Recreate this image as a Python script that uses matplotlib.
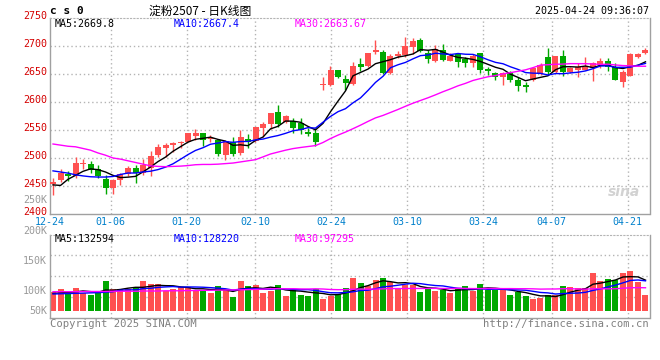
import matplotlib
matplotlib.use("Agg")
import matplotlib.pyplot as plt
import numpy as np
import pandas as pd

# daily bars 2024-12-24 .. 2025-04-24
opens = [2453, 2461, 2471, 2468, 2490, 2489, 2480, 2462, 2447, 2461,
         2471, 2482, 2474, 2483, 2505, 2517, 2523, 2527, 2528, 2540,
         2545, 2534, 2532, 2505, 2529, 2509, 2534, 2530, 2554, 2560,
         2582, 2565, 2566, 2562, 2547, 2545, 2630, 2630, 2657, 2641,
         2632, 2667, 2665, 2689, 2689, 2651, 2683, 2684, 2699, 2711,
         2687, 2674, 2692, 2674, 2685, 2676, 2669, 2687, 2659, 2652,
         2645, 2651, 2639, 2630, 2639, 2650, 2680, 2654, 2683, 2654,
         2658, 2658, 2660, 2666, 2674, 2663, 2635, 2647, 2681, 2687]
highs = [2464, 2480, 2477, 2502, 2498, 2495, 2487, 2469, 2462, 2474,
         2486, 2487, 2498, 2512, 2525, 2526, 2528, 2530, 2545, 2551,
         2545, 2541, 2533, 2530, 2538, 2550, 2542, 2555, 2564, 2580,
         2595, 2576, 2571, 2571, 2554, 2553, 2644, 2664, 2658, 2649,
         2672, 2678, 2688, 2711, 2693, 2685, 2691, 2716, 2714, 2714,
         2693, 2702, 2704, 2687, 2688, 2681, 2685, 2687, 2663, 2653,
         2653, 2655, 2645, 2635, 2663, 2669, 2697, 2683, 2692, 2663,
         2669, 2681, 2671, 2678, 2678, 2669, 2658, 2687, 2687, 2696]
lows = [2434, 2457, 2459, 2465, 2480, 2474, 2464, 2436, 2435, 2451,
        2468, 2456, 2469, 2468, 2502, 2502, 2510, 2518, 2528, 2532,
        2521, 2528, 2503, 2496, 2504, 2505, 2518, 2529, 2538, 2552,
        2556, 2563, 2544, 2543, 2539, 2521, 2621, 2629, 2643, 2621,
        2630, 2656, 2663, 2686, 2650, 2650, 2678, 2681, 2685, 2690,
        2670, 2672, 2674, 2673, 2663, 2663, 2663, 2652, 2649, 2639,
        2630, 2636, 2620, 2618, 2638, 2649, 2648, 2651, 2647, 2652,
        2644, 2657, 2637, 2660, 2656, 2639, 2626, 2647, 2678, 2686]
closes = [2457, 2474, 2468, 2491, 2491, 2479, 2467, 2447, 2461, 2471,
          2483, 2474, 2487, 2504, 2520, 2523, 2526, 2528, 2545, 2545,
          2532, 2536, 2508, 2530, 2507, 2537, 2528, 2555, 2560, 2580,
          2560, 2575, 2554, 2550, 2543, 2529, 2633, 2658, 2645, 2634,
          2664, 2663, 2688, 2693, 2652, 2682, 2686, 2700, 2709, 2691,
          2676, 2694, 2675, 2682, 2671, 2669, 2683, 2657, 2656, 2645,
          2651, 2639, 2629, 2626, 2660, 2666, 2653, 2683, 2653, 2660,
          2663, 2662, 2669, 2674, 2662, 2640, 2654, 2686, 2686, 2693]
# volume in thousands of lots
volumes = [82, 94, 78, 98, 75, 67, 78, 128, 94, 92,
           94, 97, 128, 115, 115, 86, 94, 104, 101, 89,
           85, 78, 106, 89, 58, 129, 106, 111, 76, 86,
           111, 65, 94, 67, 65, 94, 52, 65, 72, 99,
           143, 121, 106, 133, 143, 124, 94, 111, 111, 82,
           96, 86, 89, 78, 96, 106, 86, 115, 89, 89,
           89, 67, 82, 65, 50, 56, 67, 67, 106, 104,
           99, 99, 164, 130, 137, 133, 164, 171, 125, 67]

# averages at the left edge, where the history behind them is off the chart
ma5_head = [2452, 2451, 2462, 2469]
ma10_head = [2477, 2475, 2473, 2470, 2468, 2466.5, 2466, 2466, 2467]
ma30_head = [2525, 2523, 2521, 2520, 2517, 2514, 2509, 2505, 2500, 2498,
             2495, 2492, 2489, 2486, 2485, 2484.5, 2485, 2485.5, 2486.5, 2488,
             2488.5, 2488.5, 2489, 2490, 2491, 2493, 2495, 2497, 2502]
vma5_head = [75, 77, 79, 81]
vma10_head = [72, 73, 74, 75, 76, 77, 78, 80, 82]
vma30_head = [82, 82, 82, 82, 83, 83, 83, 83, 84, 84,
              84, 84, 85, 85, 85, 86, 86, 86, 87, 87,
              88, 88, 89, 89, 90, 90, 91, 92, 93]

tick_idx = [0, 8, 18, 27, 37, 47, 57, 66, 76]
tick_labels = ["12-24", "01-06", "01-20", "02-10", "02-24",
               "03-10", "03-24", "04-07", "04-21"]
price_ticks = [2400, 2450, 2500, 2550, 2600, 2650, 2700, 2750]
vol_labels = ["250K", "200K", "150K", "100K", "50K"]


def moving_avg(vals, n, head):
    s = pd.Series(vals, dtype=float).rolling(n).mean()
    s.iloc[:len(head)] = head
    return s.values


W, H = 660, 360
RED = "#ff5050"
GREEN = "#00a800"
GRID = "#b4b4b4"
BORDER = "#a0a0a0"
MONO = "DejaVu Sans Mono"


def box(l, t, r, b):
    return [l / W, 1 - b / H, (r - l) / W, (b - t) / H]


def ftext(x, y, s, **kw):
    kw.setdefault("family", MONO)
    kw.setdefault("fontsize", 7.2)
    kw.setdefault("va", "center")
    fig.text(x / W, 1 - y / H, s, **kw)


def frame(a):
    for side in ("left", "right", "bottom"):
        a.spines[side].set_color(BORDER)
        a.spines[side].set_linewidth(1)
    a.spines["top"].set_color(GRID)
    a.spines["top"].set_linestyle((0, (1, 2)))
    a.tick_params(length=0, labelleft=False, labelbottom=False)


fig = plt.figure(figsize=(6.6, 3.6), dpi=100)
fig.patch.set_facecolor("white")

x = np.arange(len(closes))
up = np.array(closes) >= np.array(opens)
colors = np.where(up, RED, GREEN)
# sina spaces its date grid a little wider than the candles
grid_x = [(7.6 * k - 3) / 7.5 for k in tick_idx]
xlim = (-0.4, (649.5 - 53) / 7.5)

# ---- price panel
ax = fig.add_axes(box(50, 18, 649.5, 214))
ax.set_xlim(*xlim)
ax.set_ylim(2400, 2750)
frame(ax)
for g in grid_x[1:]:
    ax.axvline(g, color=GRID, lw=1, ls=(0, (1, 2)), zorder=0)
for p in price_ticks[1:-1]:
    ax.axhline(p, color=GRID, lw=1, ls=(0, (1, 2)), zorder=0)

o = np.array(opens, dtype=float)
c = np.array(closes, dtype=float)
body_lo = np.minimum(o, c)
body_h = np.maximum(np.abs(c - o), 1.5)
ax.vlines(x, lows, highs, colors=colors, lw=1, zorder=2)
ax.bar(x, body_h, bottom=body_lo, width=0.8, color=colors, lw=0, zorder=3)

ax.plot(x, moving_avg(closes, 5, ma5_head), color="black", lw=1, zorder=4)
ax.plot(x, moving_avg(closes, 10, ma10_head), color="#0000ff", lw=1, zorder=4)
ax.plot(x, moving_avg(closes, 30, ma30_head), color="#ff00ff", lw=1, zorder=4)

ax.text(0.985, 0.11, "sina", transform=ax.transAxes, ha="right", va="center",
        fontsize=10, style="italic", weight="bold", color="#d2d2d2",
        family="DejaVu Sans")

# ---- volume panel
s = 0.2316  # px per K
vlo, vhi = -(317.5 - 310.7) / s, (310.7 - 234.5) / s
axv = fig.add_axes(box(50, 234.5, 649.5, 317.5))
axv.set_xlim(*xlim)
axv.set_ylim(vlo, vhi)
frame(axv)
for g in grid_x[1:]:
    axv.axvline(g, color=GRID, lw=1, ls=(0, (1, 2)), zorder=0)
for f in (0.25, 0.5, 0.75):
    axv.axhline(vlo + f * (vhi - vlo), color=GRID, lw=1, ls=(0, (1, 2)), zorder=0)
axv.bar(x, volumes, width=0.8, color=colors, lw=0, zorder=2)
axv.plot(x, moving_avg(volumes, 5, vma5_head), color="black", lw=1, zorder=4)
axv.plot(x, moving_avg(volumes, 10, vma10_head), color="#0000ff", lw=1, zorder=4)
axv.plot(x, moving_avg(volumes, 30, vma30_head), color="#ff00ff", lw=1, zorder=4)

# ---- texts
ftext(50, 11, "c s 0", weight="bold", fontsize=8)
ftext(200, 11, "淀粉2507 - 日K线图", ha="center", fontsize=8.5,
      family=["Noto Sans CJK SC", "DejaVu Sans"])
ftext(649, 11, "2025-04-24 09:36:07", ha="right")

for p in price_ticks:
    yp = 18 + (2750 - p) * 0.56 - 2
    ftext(47, yp, str(p), ha="right", color="#d40000")
for lab, yp in zip(vol_labels, [200, 231, 261, 290.7, 310.7]):
    ftext(47, yp, lab, ha="right", color="#999999")

for g, lab in zip(grid_x, tick_labels):
    xp = 53 + 7.5 * g
    ftext(xp, 222, lab, ha="center", color="#0080cc")

ftext(55, 24, "MA5:2669.8", color="black")
ftext(174, 24, "MA10:2667.4", color="#0000ff")
ftext(295, 24, "MA30:2663.67", color="#ff00ff")
ftext(55, 238.7, "MA5:132594", color="black")
ftext(174, 238.7, "MA10:128220", color="#0000ff")
ftext(295, 238.7, "MA30:97295", color="#ff00ff")

ftext(50, 324, "Copyright 2025 SINA.COM", color="#808080", fontsize=7.6)
ftext(649, 324, "http://finance.sina.com.cn", ha="right", color="#808080",
      fontsize=7.6)

fig.savefig("out.png", dpi=100)
